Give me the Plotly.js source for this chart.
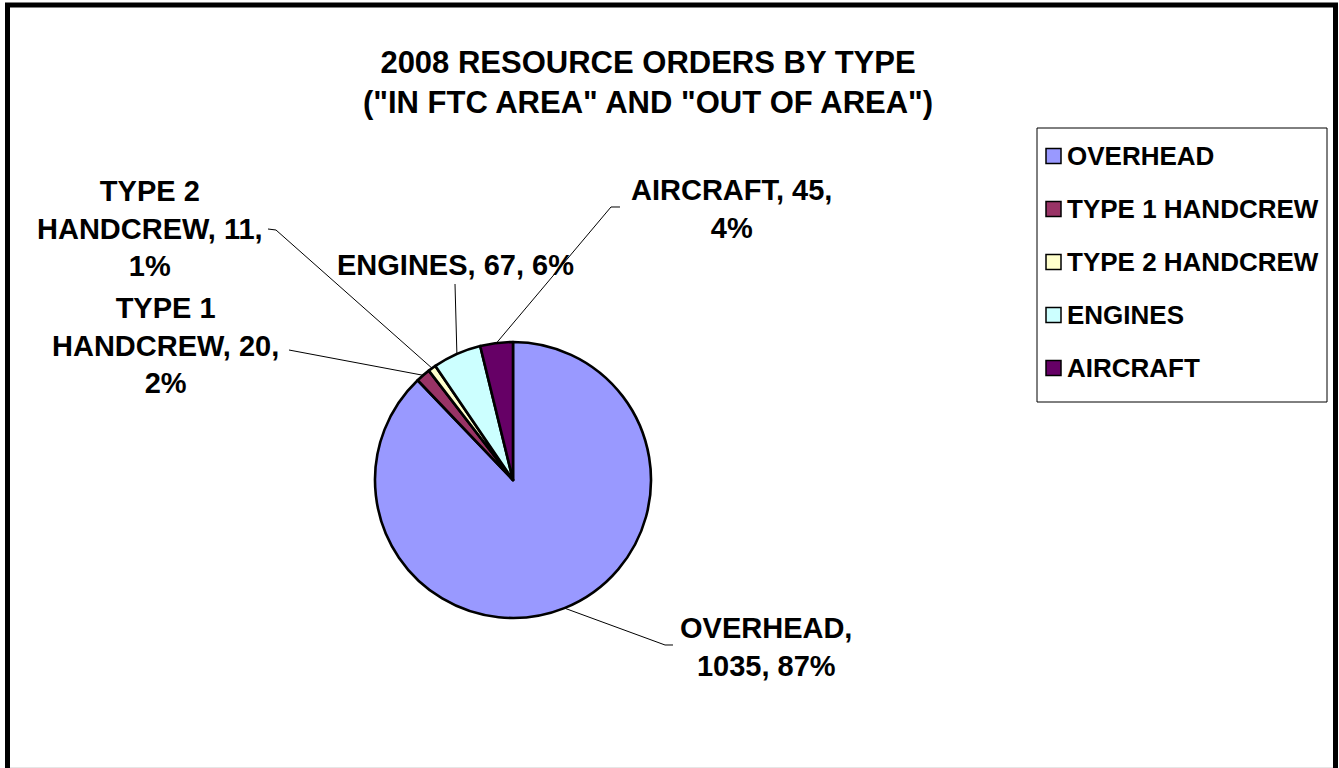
<!DOCTYPE html>
<html>
<head>
<meta charset="utf-8">
<script src="https://cdn.plot.ly/plotly-3.0.1.min.js"></script>
<style>
  html, body { margin: 0; padding: 0; background: #ffffff; }
  #chart { width: 1339px; height: 768px; }
</style>
</head>
<body>
<div id="chart"></div>
<script>
// ---- data ----
const categories = ['OVERHEAD', 'TYPE 1 HANDCREW', 'TYPE 2 HANDCREW', 'ENGINES', 'AIRCRAFT'];
const orders = [1035, 20, 11, 67, 45];
const percentText = ['87%', '2%', '1%', '6%', '4%'];
const sliceColors = ['#9999FF', '#993366', '#FFFFCC', '#CCFFFF', '#660066'];
const chartTitle = '2008 RESOURCE ORDERS BY TYPE<br>("IN FTC AREA" AND "OUT OF AREA")';

// ---- layout constants (pixels) ----
const W = 1339, H = 768;
const CX = 513, CY = 480, R = 138;
const FONT = 'Liberation Sans, Arial, Helvetica, sans-serif';
// label text centres and leader-line anchor points
const labelCenter = [[766, 647], [165, 345], [150, 228], [455, 265], [731, 209]];
const leaderStart = [[[673, 645], [665, 645]], [[289, 350]], [[268, 229], [276, 230]], [[455, 284]], [[620, 207], [611, 207]]];
const wrapChars = [10, 14, 14, 20, 14];

const px = x => x / W;
const py = y => 1 - y / H;

function wrap(text, maxChars) {
  const words = text.split(' ');
  const lines = [];
  let cur = '';
  words.forEach(w => {
    const t = cur ? cur + ' ' + w : w;
    if (t.length > maxChars && cur) { lines.push(cur); cur = w; } else { cur = t; }
  });
  if (cur) lines.push(cur);
  return lines.join('<br>');
}

const total = orders.reduce((a, b) => a + b, 0);
let cum = 0;
const annotations = [];
const shapes = [];

// outer frame
shapes.push({type: 'rect', xref: 'paper', yref: 'paper',
  x0: px(7.5), x1: px(1335.5), y0: py(790), y1: py(5),
  line: {color: '#000000', width: 5}, fillcolor: 'rgba(0,0,0,0)', layer: 'below'});
shapes.push({type: 'line', xref: 'paper', yref: 'paper',
  x0: px(10), x1: px(1333), y0: py(767.5), y1: py(767.5),
  line: {color: '#e6e6e6', width: 1}});

orders.forEach((v, i) => {
  const mid = (cum + v / 2) / total * 2 * Math.PI;
  cum += v;
  const ex = CX + R * Math.sin(mid);
  const ey = CY - R * Math.cos(mid);
  const pts = leaderStart[i].concat([[ex, ey]]);
  const path = pts.map((p, k) => (k ? 'L' : 'M') + px(p[0]).toFixed(5) + ',' + py(p[1]).toFixed(5)).join(' ');
  shapes.push({type: 'path', xref: 'paper', yref: 'paper', path: path,
    line: {color: '#000000', width: 1}});
  const txt = wrap(categories[i] + ', ' + v + ', ' + percentText[i], wrapChars[i]);
  annotations.push({xref: 'paper', yref: 'paper',
    x: px(labelCenter[i][0]), y: py(labelCenter[i][1]),
    xanchor: 'center', yanchor: 'middle', align: 'center', showarrow: false,
    text: txt, font: {family: FONT, size: 29, color: '#000000', weight: 700}});
});

// legend (box, swatches, texts)
const LG = {x0: 1037, y0: 128, x1: 1327, y1: 402, sx: 1046, size: 15, ty0: 156, step: 53, tx: 1065};
shapes.push({type: 'rect', xref: 'paper', yref: 'paper',
  x0: px(LG.x0), x1: px(LG.x1), y0: py(LG.y1), y1: py(LG.y0),
  line: {color: '#000000', width: 1}, fillcolor: '#ffffff'});
categories.forEach((c, i) => {
  const yc = LG.ty0 + i * LG.step;
  shapes.push({type: 'rect', xref: 'paper', yref: 'paper',
    x0: px(LG.sx), x1: px(LG.sx + LG.size), y0: py(yc + LG.size / 2), y1: py(yc - LG.size / 2),
    line: {color: '#000000', width: 1.5}, fillcolor: sliceColors[i]});
  annotations.push({xref: 'paper', yref: 'paper', x: px(LG.tx), y: py(yc),
    xanchor: 'left', yanchor: 'middle', showarrow: false, text: c,
    font: {family: FONT, size: 26, color: '#000000', weight: 700}});
});

const trace = {
  type: 'pie',
  labels: categories,
  values: orders,
  sort: false,
  direction: 'clockwise',
  rotation: 0,
  textinfo: 'none',
  hoverinfo: 'label+value+percent',
  marker: {colors: sliceColors, line: {color: '#000000', width: 2.6}},
  domain: {x: [px(CX - R), px(CX + R)], y: [py(CY + R), py(CY - R)]},
  showlegend: false
};

const layout = {
  width: W, height: H,
  margin: {l: 0, r: 0, t: 0, b: 0},
  paper_bgcolor: '#ffffff',
  showlegend: false,
  title: {text: chartTitle, x: px(648), y: py(73), xref: 'container', yref: 'container',
    xanchor: 'center', yanchor: 'middle',
    font: {family: FONT, size: 31, color: '#000000', weight: 700}},
  shapes: shapes,
  annotations: annotations
};

Plotly.newPlot('chart', [trace], layout, {displayModeBar: false, staticPlot: true});
</script>
</body>
</html>
